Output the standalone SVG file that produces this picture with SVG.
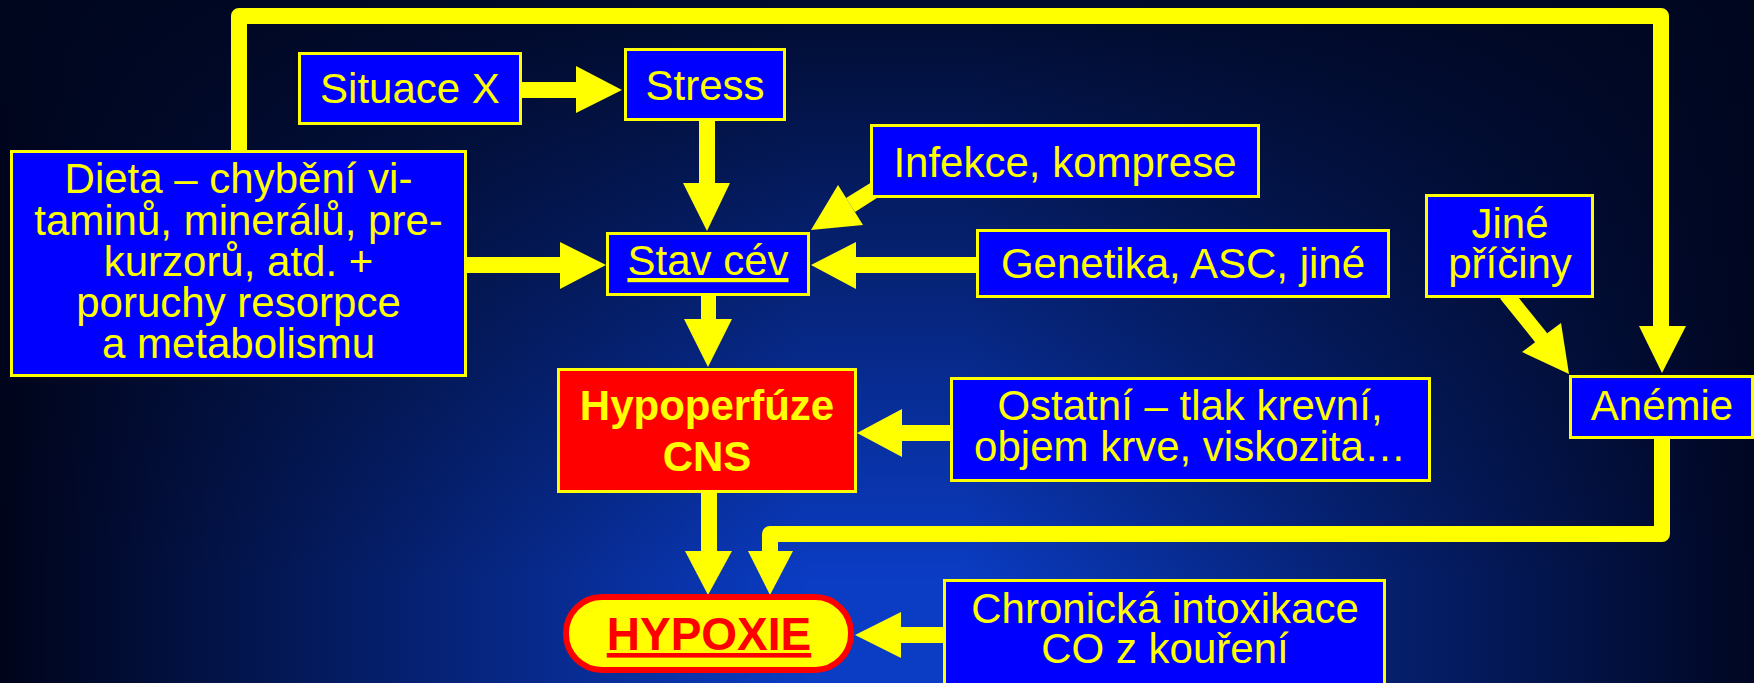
<svg xmlns="http://www.w3.org/2000/svg" width="1754" height="683" viewBox="0 0 1754 683">
  <defs>
    <!-- backdrop: bright blue core fading to navy at the edges -->
    <linearGradient id="shadeX" x1="0" y1="0" x2="1754" y2="0" gradientUnits="userSpaceOnUse">
      <stop offset="0" stop-color="#00041a" stop-opacity="1"/>
      <stop offset="0.46" stop-color="#00041a" stop-opacity="0"/>
      <stop offset="0.55" stop-color="#00041a" stop-opacity="0"/>
      <stop offset="1" stop-color="#00041a" stop-opacity="0.95"/>
    </linearGradient>
    <linearGradient id="shadeY" x1="0" y1="0" x2="0" y2="683" gradientUnits="userSpaceOnUse">
      <stop offset="0" stop-color="#00061e" stop-opacity="0.9"/>
      <stop offset="0.85" stop-color="#00061e" stop-opacity="0"/>
    </linearGradient>
    <style>
      .box { fill: #0000ff; stroke: #ffff00; stroke-width: 3; }
      .red { fill: #ff0000; stroke: #ffff00; stroke-width: 3; }
      .pill { fill: #ffff00; stroke: #ff0000; stroke-width: 6; }
      .t { font-family: "Liberation Sans", Arial, sans-serif; font-size: 42px; fill: #ffff00; text-anchor: middle; }
      .b { font-weight: bold; }
      .ar { fill: #ffff00; }
      .ln { fill: none; stroke: #ffff00; stroke-linejoin: round; }
    </style>
  </defs>

  <rect x="0" y="0" width="1754" height="683" fill="#0a3cc4"/>
  <rect x="0" y="0" width="1754" height="683" fill="url(#shadeX)"/>
  <rect x="0" y="0" width="1754" height="683" fill="url(#shadeY)"/>

  <g id="connectors">
    <!-- Situace X -> Stress -->
    <rect class="ar" x="521" y="82" width="57" height="16"/>
    <polygon class="ar" points="576,66 622,90 576,113"/>
    <!-- Stress -> Stav cév -->
    <rect class="ar" x="699" y="120" width="16" height="65"/>
    <polygon class="ar" points="683,183 730,183 707,231"/>
    <!-- Dieta -> Stav cév -->
    <rect class="ar" x="466" y="257" width="96" height="16"/>
    <polygon class="ar" points="560,242 606,265 560,289"/>
    <!-- Genetika -> Stav cév -->
    <rect class="ar" x="854" y="257" width="124" height="16"/>
    <polygon class="ar" points="856,242 811,265 856,289"/>
    <!-- Infekce -> Stav cév -->
    <polygon class="ar" points="846,198 855,212 894,187 885,174"/>
    <polygon class="ar" points="811,230 838,185 863,225"/>
    <!-- Stav cév -> Hypoperfúze -->
    <rect class="ar" x="701" y="295" width="15" height="26"/>
    <polygon class="ar" points="684,319 732,319 708,367"/>
    <!-- Ostatní -> Hypoperfúze -->
    <rect class="ar" x="900" y="425" width="52" height="16"/>
    <polygon class="ar" points="902,409 857,433 902,457"/>
    <!-- Hypoperfúze -> HYPOXIE -->
    <rect class="ar" x="701" y="492" width="16" height="61"/>
    <polygon class="ar" points="685,551 732,551 708,595"/>
    <!-- Chronická intoxikace -> HYPOXIE -->
    <rect class="ar" x="899" y="627" width="46" height="16"/>
    <polygon class="ar" points="901,612 855,635 901,658"/>
    <!-- Dieta -> Anémie (loop over the top) -->
    <path class="ln" stroke-width="16" d="M239,152 L239,16 L1661,16 L1661,328"/>
    <polygon class="ar" points="1639,326 1686,326 1662,373"/>
    <!-- Anémie -> HYPOXIE -->
    <path class="ln" stroke-width="16" d="M1662,437 L1662,534 L770,534 L770,553"/>
    <polygon class="ar" points="748,551 793,551 770,595"/>
    <!-- Jiné příčiny -> Anémie -->
    <path class="ln" stroke-width="15" d="M1506,294 L1543,340"/>
    <polygon class="ar" points="1561,323 1522,352 1569,374"/>
  </g>

  <g id="situace">
    <rect class="box" x="299.5" y="53.5" width="221" height="70"/>
    <text class="t" x="410" y="103">Situace X</text>
  </g>
  <g id="stress">
    <rect class="box" x="625.5" y="49.5" width="159" height="70"/>
    <text class="t" x="705" y="100">Stress</text>
  </g>
  <g id="dieta">
    <rect class="box" x="11.5" y="151.5" width="454" height="224"/>
    <text class="t" y="193"><tspan x="238.5">Dieta – chybění vi-</tspan><tspan x="238.5" dy="42">taminů, minerálů, pre-</tspan><tspan x="238.5" dy="41">kurzorů, atd. +</tspan><tspan x="238.5" dy="41">poruchy resorpce</tspan><tspan x="238.5" dy="41">a metabolismu</tspan></text>
  </g>
  <g id="stav-cev">
    <rect class="box" x="607.5" y="233.5" width="201" height="61"/>
    <text class="t" x="708" y="275" text-decoration="underline">Stav cév</text>
  </g>
  <g id="infekce">
    <rect class="box" x="871.5" y="125.5" width="387" height="71"/>
    <text class="t" x="1065" y="177">Infekce, komprese</text>
  </g>
  <g id="genetika">
    <rect class="box" x="977.5" y="230.5" width="411" height="66"/>
    <text class="t" x="1183" y="278">Genetika, ASC, jiné</text>
  </g>
  <g id="jine-priciny">
    <rect class="box" x="1426.5" y="195.5" width="166" height="101"/>
    <text class="t" y="238"><tspan x="1510">Jiné</tspan><tspan x="1510" dy="40">příčiny</tspan></text>
  </g>
  <g id="hypoperfuze">
    <rect class="red" x="558.5" y="369.5" width="297" height="122"/>
    <text class="t b" y="420"><tspan x="707">Hypoperfúze</tspan><tspan x="707" dy="51">CNS</tspan></text>
  </g>
  <g id="ostatni">
    <rect class="box" x="951.5" y="378.5" width="478" height="102"/>
    <text class="t" y="420"><tspan x="1190">Ostatní – tlak krevní,</tspan><tspan x="1190" dy="41">objem krve, viskozita…</tspan></text>
  </g>
  <g id="anemie">
    <rect class="box" x="1570.5" y="376.5" width="182" height="61"/>
    <text class="t" x="1662" y="420">Anémie</text>
  </g>
  <g id="hypoxie">
    <rect class="pill" x="566" y="597" width="285" height="73" rx="36" ry="36"/>
    <text class="t b" x="709" y="650" style="font-size:46px; fill:#ff0000" text-decoration="underline">HYPOXIE</text>
  </g>
  <g id="chronicka">
    <rect class="box" x="944.5" y="580.5" width="440" height="110"/>
    <text class="t" y="623"><tspan x="1165">Chronická intoxikace</tspan><tspan x="1165" dy="40">CO z kouření</tspan></text>
  </g>
</svg>
